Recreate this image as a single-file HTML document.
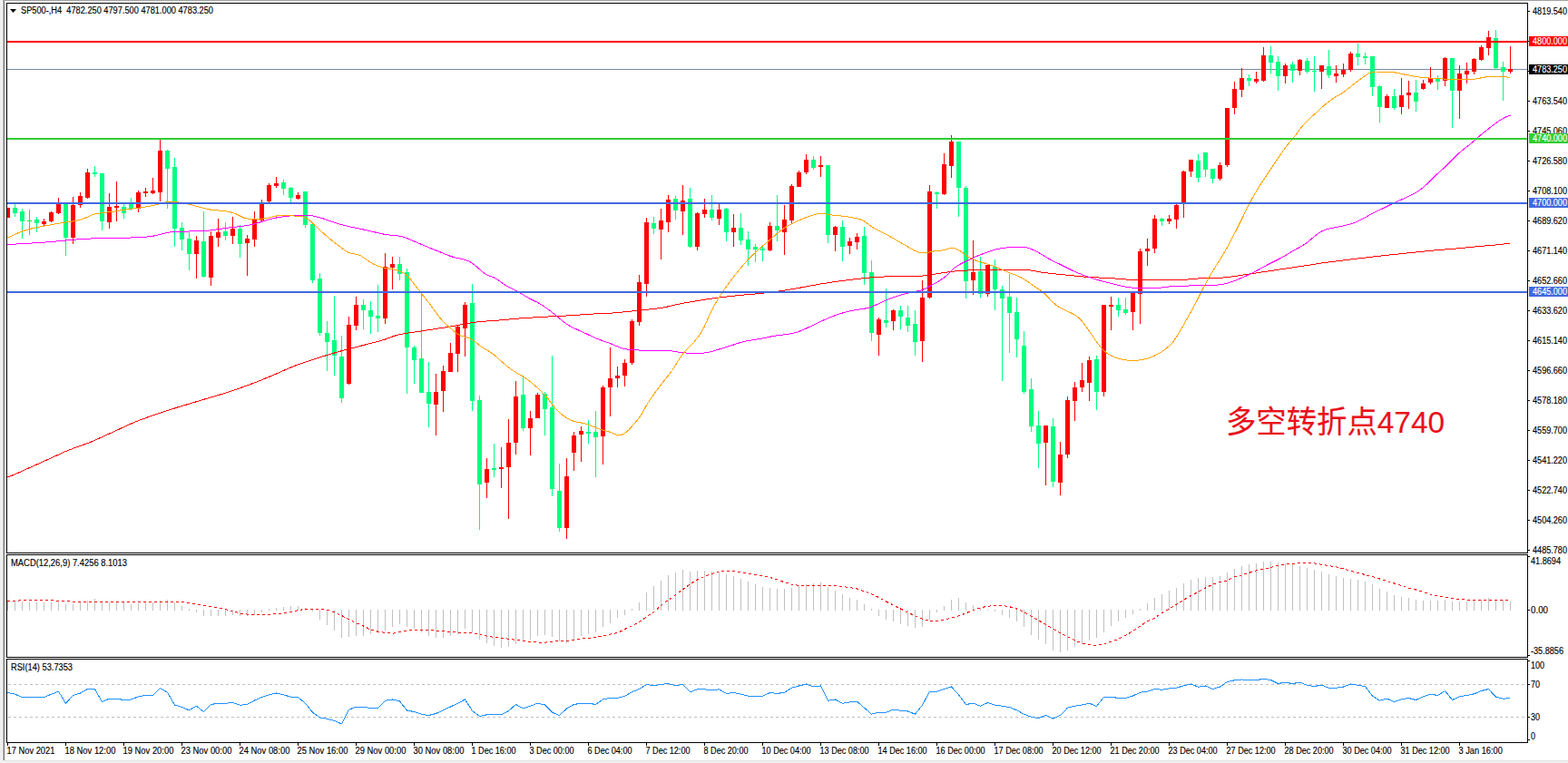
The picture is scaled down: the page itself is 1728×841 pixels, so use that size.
<!DOCTYPE html><html><head><meta charset="utf-8"><title>SP500-,H4</title>
<style>html,body{margin:0;padding:0;background:#fff;overflow:hidden}body{width:1728px;height:841px;position:relative;font-family:"Liberation Sans",sans-serif}svg{position:absolute;left:0;top:0;display:block}text{font-family:"Liberation Sans",sans-serif;font-size:10px;stroke-width:0.15px}</style></head><body>
<svg width="1728" height="841" viewBox="0 0 1728 841">
<rect x="0" y="0" width="1728" height="841" fill="#fff"/>
<g shape-rendering="crispEdges">
<rect x="0" y="0" width="3" height="841" fill="#f0f0f0"/>
<rect x="3" y="0" width="1" height="841" fill="#c3c3c3"/>
<rect x="4" y="0" width="1" height="841" fill="#6d6d6d"/>
<rect x="3" y="0" width="1725" height="1" fill="#a0a0a0"/>
<rect x="0" y="838" width="1728" height="3" fill="#f0f0f0"/>
<rect x="5" y="838" width="1723" height="1" fill="#e3e3e3"/>
<rect x="7" y="3" width="1677" height="1" fill="#000"/>
<rect x="7" y="609" width="1677" height="1" fill="#000"/>
<rect x="7" y="3" width="1" height="607" fill="#000"/>
<rect x="1683" y="3" width="1" height="607" fill="#000"/>
<rect x="7" y="611" width="1677" height="1" fill="#000"/>
<rect x="7" y="724" width="1677" height="1" fill="#000"/>
<rect x="7" y="611" width="1" height="114" fill="#000"/>
<rect x="1683" y="611" width="1" height="114" fill="#000"/>
<rect x="7" y="726" width="1677" height="1" fill="#000"/>
<rect x="7" y="818" width="1677" height="1" fill="#000"/>
<rect x="7" y="726" width="1" height="93" fill="#000"/>
<rect x="1683" y="726" width="1" height="93" fill="#000"/>
</g>
<clipPath id="cm"><rect x="8" y="4" width="1675" height="605"/></clipPath>
<g clip-path="url(#cm)" shape-rendering="crispEdges">
<rect x="8" y="76" width="1675" height="1" fill="#7b8aa0"/>
<path d="M16 225h1v14h-1zM14 229h5v6h-5zM24 230h1v33h-1zM22 233h5v11h-5zM40 239h1v17h-1zM38 242h5v4h-5zM72 225h1v57h-1zM70 225h5v37h-5zM104 183h1v12h-1zM102 190h5v2h-5zM112 191h1v63h-1zM110 191h5v53h-5zM136 225h1v16h-1zM134 228h5v7h-5zM144 218h1v14h-1zM142 224h5v6h-5zM184 165h1v65h-1zM182 166h5v20h-5zM192 174h1v98h-1zM190 184h5v68h-5zM200 245h1v31h-1zM198 251h5v13h-5zM208 256h1v42h-1zM206 263h5v17h-5zM224 233h1v73h-1zM222 266h5v39h-5zM248 245h1v20h-1zM246 255h5v5h-5zM264 248h1v36h-1zM262 252h5v17h-5zM312 198h1v17h-1zM310 201h5v7h-5zM320 206h1v17h-1zM318 207h5v11h-5zM336 211h1v40h-1zM334 211h5v37h-5zM344 247h1v65h-1zM342 247h5v62h-5zM352 301h1v69h-1zM350 307h5v60h-5zM360 354h1v55h-1zM358 367h5v10h-5zM368 326h1v88h-1zM366 375h5v17h-5zM376 370h1v74h-1zM374 393h5v46h-5zM400 330h1v33h-1zM398 336h5v6h-5zM408 332h1v36h-1zM406 342h5v7h-5zM416 314h1v52h-1zM414 348h5v3h-5zM440 283h1v26h-1zM438 291h5v11h-5zM448 296h1v138h-1zM446 300h5v83h-5zM456 381h1v42h-1zM454 383h5v14h-5zM464 324h1v109h-1zM462 395h5v38h-5zM472 399h1v72h-1zM470 432h5v13h-5zM520 313h1v140h-1zM518 334h5v108h-5zM528 436h1v148h-1zM526 441h5v93h-5zM544 489h1v37h-1zM542 516h5v2h-5zM576 414h1v61h-1zM574 435h5v37h-5zM600 432h1v48h-1zM598 434h5v17h-5zM608 392h1v155h-1zM606 449h5v90h-5zM616 511h1v75h-1zM614 541h5v41h-5zM648 463h1v26h-1zM646 476h5v2h-5zM656 453h1v73h-1zM654 476h5v6h-5zM720 239h1v19h-1zM718 246h5v6h-5zM744 216h1v26h-1zM742 219h5v13h-5zM760 207h1v66h-1zM758 219h5v53h-5zM784 215h1v28h-1zM782 231h5v9h-5zM800 229h1v37h-1zM798 230h5v26h-5zM816 235h1v35h-1zM814 251h5v14h-5zM824 255h1v38h-1zM822 264h5v11h-5zM832 269h1v20h-1zM830 272h5v3h-5zM840 272h1v16h-1zM838 274h5v2h-5zM856 215h1v51h-1zM854 249h5v5h-5zM896 172h1v15h-1zM894 176h5v9h-5zM912 182h1v86h-1zM910 182h5v77h-5zM928 243h1v45h-1zM926 250h5v22h-5zM952 250h1v64h-1zM950 260h5v41h-5zM960 287h1v89h-1zM958 300h5v67h-5zM976 318h1v43h-1zM974 353h5v3h-5zM992 337h1v26h-1zM990 342h5v7h-5zM1000 337h1v29h-1zM998 350h5v9h-5zM1008 342h1v50h-1zM1006 357h5v20h-5zM1032 211h1v19h-1zM1030 212h5v2h-5zM1056 156h1v83h-1zM1054 156h5v51h-5zM1064 205h1v124h-1zM1062 207h5v103h-5zM1080 283h1v45h-1zM1078 299h5v25h-5zM1096 286h1v56h-1zM1094 294h5v25h-5zM1104 315h1v105h-1zM1102 319h5v10h-5zM1112 302h1v87h-1zM1110 327h5v18h-5zM1120 328h1v66h-1zM1118 344h5v30h-5zM1128 365h1v69h-1zM1126 381h5v51h-5zM1136 417h1v59h-1zM1134 429h5v41h-5zM1144 453h1v63h-1zM1142 469h5v20h-5zM1160 461h1v76h-1zM1158 470h5v61h-5zM1208 392h1v60h-1zM1206 396h5v36h-5zM1232 328h1v21h-1zM1230 336h5v6h-5zM1240 328h1v19h-1zM1238 341h5v4h-5zM1280 240h1v9h-1zM1278 241h5v3h-5zM1320 170h1v31h-1zM1318 177h5v19h-5zM1328 168h1v27h-1zM1326 168h5v19h-5zM1336 186h1v16h-1zM1334 186h5v11h-5zM1376 82h1v13h-1zM1374 86h5v3h-5zM1400 51h1v30h-1zM1398 61h5v8h-5zM1408 62h1v38h-1zM1406 68h5v16h-5zM1424 68h1v23h-1zM1422 71h5v7h-5zM1440 64h1v17h-1zM1438 67h5v12h-5zM1448 62h1v39h-1zM1446 78h5v1h-5zM1464 55h1v31h-1zM1462 73h5v10h-5zM1496 48h1v24h-1zM1494 59h5v4h-5zM1504 58h1v13h-1zM1502 62h5v2h-5zM1512 62h1v44h-1zM1510 62h5v34h-5zM1520 94h1v41h-1zM1518 95h5v23h-5zM1536 98h1v23h-1zM1534 106h5v13h-5zM1560 88h1v35h-1zM1558 102h5v10h-5zM1584 83h1v16h-1zM1582 86h5v4h-5zM1600 64h1v77h-1zM1598 64h5v36h-5zM1648 33h1v44h-1zM1646 42h5v33h-5zM1656 68h1v43h-1zM1654 74h5v5h-5z" fill="#00ff7f"/>
<path d="M8 229h1v11h-1zM6 229h5v11h-5zM48 241h1v9h-1zM46 244h5v3h-5zM56 233h1v12h-1zM54 234h5v10h-5zM64 218h1v18h-1zM62 224h5v11h-5zM80 217h1v52h-1zM78 226h5v36h-5zM88 212h1v17h-1zM86 216h5v10h-5zM96 186h1v33h-1zM94 190h5v28h-5zM120 213h1v39h-1zM118 228h5v17h-5zM128 200h1v44h-1zM126 227h5v2h-5zM152 210h1v24h-1zM150 212h5v18h-5zM160 207h1v10h-1zM158 211h5v2h-5zM168 196h1v18h-1zM166 210h5v3h-5zM176 154h1v68h-1zM174 166h5v46h-5zM216 260h1v47h-1zM214 265h5v15h-5zM232 255h1v60h-1zM230 260h5v46h-5zM240 241h1v31h-1zM238 256h5v6h-5zM256 239h1v30h-1zM254 252h5v8h-5zM272 259h1v45h-1zM270 263h5v5h-5zM280 233h1v39h-1zM278 242h5v22h-5zM288 220h1v25h-1zM286 223h5v20h-5zM296 202h1v21h-1zM294 204h5v18h-5zM304 195h1v12h-1zM302 202h5v3h-5zM328 212h1v8h-1zM326 215h5v4h-5zM384 349h1v75h-1zM382 358h5v65h-5zM392 327h1v37h-1zM390 336h5v23h-5zM424 279h1v78h-1zM422 294h5v57h-5zM432 283h1v36h-1zM430 291h5v4h-5zM480 412h1v68h-1zM478 432h5v14h-5zM488 403h1v51h-1zM486 409h5v22h-5zM496 378h1v32h-1zM494 389h5v21h-5zM504 359h1v51h-1zM502 360h5v30h-5zM512 333h1v60h-1zM510 336h5v26h-5zM536 505h1v44h-1zM534 517h5v15h-5zM552 493h1v45h-1zM550 515h5v2h-5zM560 462h1v110h-1zM558 488h5v27h-5zM568 420h1v81h-1zM566 437h5v51h-5zM584 453h1v49h-1zM582 461h5v11h-5zM592 433h1v28h-1zM590 435h5v26h-5zM624 505h1v89h-1zM622 525h5v57h-5zM632 476h1v43h-1zM630 480h5v19h-5zM640 470h1v39h-1zM638 475h5v4h-5zM664 425h1v87h-1zM662 427h5v54h-5zM672 383h1v76h-1zM670 417h5v10h-5zM680 404h1v23h-1zM678 414h5v3h-5zM688 396h1v30h-1zM686 400h5v14h-5zM696 352h1v50h-1zM694 354h5v46h-5zM704 303h1v56h-1zM702 311h5v44h-5zM712 240h1v87h-1zM710 245h5v68h-5zM728 230h1v56h-1zM726 243h5v10h-5zM736 215h1v41h-1zM734 220h5v25h-5zM752 204h1v55h-1zM750 221h5v12h-5zM768 234h1v42h-1zM766 235h5v37h-5zM776 219h1v21h-1zM774 231h5v5h-5zM792 225h1v23h-1zM790 231h5v10h-5zM808 236h1v36h-1zM806 251h5v5h-5zM848 245h1v32h-1zM846 249h5v27h-5zM864 226h1v55h-1zM862 242h5v14h-5zM872 203h1v43h-1zM870 205h5v38h-5zM880 188h1v18h-1zM878 190h5v16h-5zM888 170h1v22h-1zM886 176h5v14h-5zM904 172h1v23h-1zM902 182h5v2h-5zM920 249h1v28h-1zM918 250h5v9h-5zM936 262h1v18h-1zM934 266h5v5h-5zM944 257h1v18h-1zM942 261h5v6h-5zM968 350h1v42h-1zM966 352h5v17h-5zM984 341h1v23h-1zM982 342h5v12h-5zM1016 309h1v90h-1zM1014 328h5v48h-5zM1024 204h1v125h-1zM1022 211h5v117h-5zM1040 169h1v46h-1zM1038 181h5v33h-5zM1048 149h1v47h-1zM1046 156h5v27h-5zM1072 265h1v60h-1zM1070 300h5v9h-5zM1088 291h1v36h-1zM1086 292h5v32h-5zM1152 469h1v66h-1zM1150 469h5v19h-5zM1168 487h1v59h-1zM1166 501h5v31h-5zM1176 437h1v68h-1zM1174 441h5v60h-5zM1184 421h1v43h-1zM1182 427h5v15h-5zM1192 400h1v32h-1zM1190 419h5v8h-5zM1200 393h1v49h-1zM1198 397h5v25h-5zM1216 336h1v101h-1zM1214 336h5v96h-5zM1224 327h1v37h-1zM1222 336h5v2h-5zM1248 322h1v42h-1zM1246 322h5v22h-5zM1256 274h1v83h-1zM1254 277h5v47h-5zM1264 263h1v30h-1zM1262 274h5v3h-5zM1272 237h1v42h-1zM1270 241h5v33h-5zM1288 237h1v10h-1zM1286 241h5v3h-5zM1296 225h1v27h-1zM1294 226h5v16h-5zM1304 188h1v52h-1zM1302 189h5v35h-5zM1312 176h1v19h-1zM1310 176h5v13h-5zM1344 179h1v20h-1zM1342 182h5v15h-5zM1352 119h1v65h-1zM1350 119h5v63h-5zM1360 90h1v36h-1zM1358 98h5v21h-5zM1368 75h1v32h-1zM1366 86h5v13h-5zM1384 79h1v13h-1zM1382 87h5v3h-5zM1392 52h1v38h-1zM1390 61h5v28h-5zM1416 70h1v22h-1zM1414 72h5v12h-5zM1432 65h1v18h-1zM1430 66h5v12h-5zM1456 72h1v26h-1zM1454 72h5v7h-5zM1472 72h1v19h-1zM1470 81h5v3h-5zM1480 70h1v15h-1zM1478 77h5v5h-5zM1488 57h1v22h-1zM1486 59h5v18h-5zM1528 104h1v15h-1zM1526 106h5v13h-5zM1544 86h1v40h-1zM1542 105h5v13h-5zM1552 89h1v31h-1zM1550 102h5v3h-5zM1568 88h1v11h-1zM1566 92h5v6h-5zM1576 74h1v19h-1zM1574 86h5v5h-5zM1592 63h1v32h-1zM1590 64h5v25h-5zM1608 72h1v59h-1zM1606 81h5v19h-5zM1616 69h1v23h-1zM1614 78h5v4h-5zM1624 64h1v18h-1zM1622 65h5v14h-5zM1632 50h1v17h-1zM1630 52h5v14h-5zM1640 34h1v27h-1zM1638 41h5v12h-5zM1664 51h1v30h-1zM1662 76h5v3h-5z" fill="#ff0000"/>
<path d="M32 231h1v28h-1zM30 243h5v1h-5z" fill="#00ff00"/>
</g>
<g clip-path="url(#cm)" fill="none" stroke-width="1" shape-rendering="crispEdges">
<polyline points="8.5,525.7 12.5,524.4 16.5,522.7 20.5,521.0 24.5,519.2 28.5,517.4 32.5,515.6 36.5,513.8 40.5,512.0 44.5,510.2 48.5,508.4 52.5,506.6 56.5,504.7 60.5,502.9 64.5,501.1 68.5,499.3 72.5,497.5 76.5,495.9 80.5,494.3 84.5,492.9 88.5,491.4 92.5,490.0 96.5,488.5 100.5,487.0 104.5,485.3 108.5,483.5 112.5,481.7 116.5,479.9 120.5,478.0 124.5,476.2 128.5,474.4 132.5,472.5 136.5,470.7 140.5,468.8 144.5,467.0 148.5,465.3 152.5,463.7 156.5,462.2 160.5,460.7 164.5,459.3 168.5,457.9 172.5,456.5 176.5,455.2 180.5,453.8 184.5,452.5 188.5,451.3 192.5,450.0 196.5,448.7 200.5,447.5 204.5,446.3 208.5,445.1 212.5,443.9 216.5,442.7 220.5,441.5 224.5,440.3 228.5,439.1 232.5,437.9 236.5,436.8 240.5,435.6 244.5,434.4 248.5,433.1 252.5,431.8 256.5,430.5 260.5,429.1 264.5,427.7 268.5,426.3 272.5,424.9 276.5,423.4 280.5,421.8 284.5,420.3 288.5,418.7 292.5,417.0 296.5,415.4 300.5,413.7 304.5,412.0 308.5,410.3 312.5,408.5 316.5,406.7 320.5,405.0 324.5,403.4 328.5,401.9 332.5,400.5 336.5,399.1 340.5,397.7 344.5,396.4 348.5,395.1 352.5,393.9 356.5,392.6 360.5,391.4 364.5,390.2 368.5,389.0 372.5,387.9 376.5,386.7 380.5,385.7 384.5,384.6 388.5,383.6 392.5,382.6 396.5,381.5 400.5,380.5 404.5,379.5 408.5,378.4 412.5,377.4 416.5,376.4 420.5,375.2 424.5,374.0 428.5,372.6 432.5,371.0 436.5,369.7 440.5,368.7 444.5,367.9 448.5,367.3 452.5,366.7 456.5,366.1 460.5,365.5 464.5,364.9 468.5,364.3 472.5,363.7 476.5,363.1 480.5,362.5 484.5,361.8 488.5,361.2 492.5,360.6 496.5,359.9 500.5,359.2 504.5,358.5 508.5,357.8 512.5,357.1 516.5,356.3 520.5,355.7 524.5,355.1 528.5,354.7 532.5,354.4 536.5,354.0 540.5,353.7 544.5,353.5 548.5,353.2 552.5,352.8 556.5,352.5 560.5,352.1 564.5,351.7 568.5,351.3 572.5,351.0 576.5,350.7 580.5,350.4 584.5,350.2 588.5,349.9 592.5,349.7 596.5,349.5 600.5,349.3 604.5,349.0 608.5,348.8 612.5,348.7 616.5,348.5 620.5,348.3 624.5,348.0 628.5,347.8 632.5,347.5 636.5,347.2 640.5,346.9 644.5,346.6 648.5,346.4 652.5,346.1 656.5,345.9 660.5,345.8 664.5,345.6 668.5,345.4 672.5,345.2 676.5,344.9 680.5,344.6 684.5,344.2 688.5,343.8 692.5,343.4 696.5,342.9 700.5,342.5 704.5,342.1 708.5,341.7 712.5,341.3 716.5,340.9 720.5,340.4 724.5,339.9 728.5,339.4 732.5,338.7 736.5,337.8 740.5,336.8 744.5,335.9 748.5,335.1 752.5,334.3 756.5,333.6 760.5,332.9 764.5,332.2 768.5,331.5 772.5,330.9 776.5,330.2 780.5,329.6 784.5,329.1 788.5,328.5 792.5,328.0 796.5,327.5 800.5,327.1 804.5,326.6 808.5,326.2 812.5,325.8 816.5,325.4 820.5,325.0 824.5,324.7 828.5,324.4 832.5,324.0 836.5,323.6 840.5,323.2 844.5,322.8 848.5,322.3 852.5,321.8 856.5,321.3 860.5,320.7 864.5,320.1 868.5,319.5 872.5,318.8 876.5,318.1 880.5,317.4 884.5,316.6 888.5,315.9 892.5,315.1 896.5,314.4 900.5,313.7 904.5,313.0 908.5,312.4 912.5,311.7 916.5,311.1 920.5,310.5 924.5,310.0 928.5,309.5 932.5,309.0 936.5,308.5 940.5,308.0 944.5,307.5 948.5,307.1 952.5,306.6 956.5,306.2 960.5,305.9 964.5,305.6 968.5,305.3 972.5,305.1 976.5,304.9 980.5,304.8 984.5,304.6 988.5,304.5 992.5,304.5 996.5,304.4 1000.5,304.4 1004.5,304.4 1008.5,304.3 1012.5,304.3 1016.5,304.1 1020.5,303.7 1024.5,303.0 1028.5,302.4 1032.5,301.7 1036.5,301.1 1040.5,300.5 1044.5,300.0 1048.5,299.5 1052.5,299.0 1056.5,298.6 1060.5,298.3 1064.5,298.1 1068.5,297.9 1072.5,297.8 1076.5,297.7 1080.5,297.6 1084.5,297.5 1088.5,297.5 1092.5,297.5 1096.5,297.5 1100.5,297.5 1104.5,297.5 1108.5,297.5 1112.5,297.5 1116.5,297.5 1120.5,297.5 1124.5,297.5 1128.5,297.5 1132.5,297.7 1136.5,298.1 1140.5,298.7 1144.5,299.5 1148.5,300.2 1152.5,300.7 1156.5,301.2 1160.5,301.7 1164.5,302.1 1168.5,302.5 1172.5,302.9 1176.5,303.3 1180.5,303.7 1184.5,304.1 1188.5,304.5 1192.5,304.9 1196.5,305.2 1200.5,305.5 1204.5,305.7 1208.5,305.9 1212.5,306.1 1216.5,306.3 1220.5,306.5 1224.5,306.7 1228.5,307.0 1232.5,307.4 1236.5,307.7 1240.5,308.0 1244.5,308.2 1248.5,308.2 1252.5,308.2 1256.5,308.2 1260.5,308.2 1264.5,308.2 1268.5,308.2 1272.5,308.2 1276.5,308.2 1280.5,308.2 1284.5,308.2 1288.5,308.2 1292.5,308.2 1296.5,308.2 1300.5,308.2 1304.5,308.2 1308.5,308.1 1312.5,307.7 1316.5,307.4 1320.5,307.0 1324.5,306.9 1328.5,306.7 1332.5,306.6 1336.5,306.6 1340.5,306.4 1344.5,306.3 1348.5,306.0 1352.5,305.6 1356.5,305.1 1360.5,304.5 1364.5,303.9 1368.5,303.3 1372.5,302.7 1376.5,302.1 1380.5,301.5 1384.5,300.9 1388.5,300.3 1392.5,299.7 1396.5,299.1 1400.5,298.5 1404.5,297.9 1408.5,297.3 1412.5,296.7 1416.5,296.1 1420.5,295.5 1424.5,294.9 1428.5,294.3 1432.5,293.7 1436.5,293.1 1440.5,292.5 1444.5,291.9 1448.5,291.3 1452.5,290.7 1456.5,290.0 1460.5,289.5 1464.5,288.9 1468.5,288.4 1472.5,287.9 1476.5,287.4 1480.5,286.9 1484.5,286.4 1488.5,286.0 1492.5,285.5 1496.5,285.0 1500.5,284.6 1504.5,284.1 1508.5,283.6 1512.5,283.1 1516.5,282.7 1520.5,282.2 1524.5,281.8 1528.5,281.3 1532.5,280.9 1536.5,280.5 1540.5,280.1 1544.5,279.6 1548.5,279.2 1552.5,278.8 1556.5,278.4 1560.5,278.0 1564.5,277.6 1568.5,277.2 1572.5,276.8 1576.5,276.4 1580.5,276.0 1584.5,275.7 1588.5,275.3 1592.5,275.0 1596.5,274.7 1600.5,274.4 1604.5,274.1 1608.5,273.7 1612.5,273.3 1616.5,272.9 1620.5,272.5 1624.5,272.1 1628.5,271.7 1632.5,271.3 1636.5,271.0 1640.5,270.7 1644.5,270.4 1648.5,270.0 1652.5,269.6 1656.5,269.1 1660.5,268.5 1664.5,268.0" stroke="#ff0000"/>
<polyline points="8.5,269.4 12.5,269.3 16.5,269.1 20.5,268.9 24.5,268.6 28.5,268.4 32.5,268.2 36.5,267.9 40.5,267.7 44.5,267.4 48.5,267.1 52.5,266.8 56.5,266.5 60.5,266.2 64.5,265.8 68.5,265.5 72.5,265.1 76.5,264.7 80.5,264.4 84.5,264.0 88.5,263.7 92.5,263.4 96.5,263.2 100.5,263.0 104.5,262.9 108.5,262.7 112.5,262.6 116.5,262.6 120.5,262.5 124.5,262.4 128.5,262.3 132.5,262.3 136.5,262.2 140.5,262.1 144.5,262.0 148.5,261.8 152.5,261.7 156.5,261.4 160.5,261.2 164.5,260.8 168.5,260.2 172.5,259.4 176.5,258.4 180.5,257.3 184.5,256.4 188.5,255.8 192.5,255.4 196.5,255.3 200.5,255.1 204.5,255.1 208.5,255.0 212.5,254.9 216.5,254.8 220.5,254.7 224.5,254.5 228.5,254.3 232.5,253.9 236.5,253.3 240.5,252.7 244.5,252.1 248.5,251.5 252.5,251.0 256.5,250.5 260.5,250.1 264.5,249.6 268.5,249.1 272.5,248.5 276.5,247.7 280.5,246.8 284.5,245.6 288.5,244.4 292.5,243.1 296.5,241.9 300.5,240.8 304.5,240.0 308.5,239.3 312.5,238.8 316.5,238.3 320.5,237.9 324.5,237.6 328.5,237.3 332.5,237.2 336.5,237.1 340.5,237.3 344.5,237.9 348.5,238.8 352.5,239.8 356.5,241.0 360.5,242.4 364.5,243.8 368.5,245.3 372.5,246.6 376.5,247.7 380.5,248.7 384.5,249.6 388.5,250.5 392.5,251.3 396.5,252.2 400.5,253.0 404.5,253.9 408.5,254.8 412.5,255.8 416.5,256.7 420.5,257.6 424.5,258.4 428.5,259.0 432.5,259.4 436.5,259.8 440.5,260.2 444.5,261.1 448.5,262.5 452.5,264.3 456.5,266.0 460.5,267.7 464.5,269.4 468.5,271.1 472.5,272.8 476.5,274.4 480.5,276.0 484.5,277.6 488.5,279.2 492.5,280.9 496.5,282.4 500.5,283.6 504.5,284.6 508.5,285.4 512.5,286.4 516.5,287.9 520.5,290.2 524.5,293.2 528.5,296.8 532.5,300.3 536.5,302.9 540.5,304.6 544.5,306.0 548.5,308.2 552.5,311.3 556.5,314.1 560.5,316.3 564.5,318.1 568.5,320.1 572.5,322.3 576.5,324.9 580.5,327.4 584.5,329.5 588.5,331.5 592.5,333.4 596.5,335.7 600.5,338.4 604.5,341.3 608.5,344.4 612.5,347.6 616.5,350.9 620.5,354.2 624.5,357.2 628.5,359.6 632.5,361.7 636.5,363.5 640.5,365.3 644.5,367.1 648.5,369.0 652.5,370.9 656.5,372.7 660.5,374.3 664.5,375.7 668.5,377.1 672.5,378.6 676.5,380.2 680.5,381.9 684.5,383.5 688.5,384.6 692.5,385.3 696.5,385.7 700.5,385.9 704.5,386.0 708.5,386.0 712.5,386.0 716.5,386.0 720.5,386.0 724.5,386.0 728.5,386.0 732.5,386.1 736.5,386.3 740.5,386.9 744.5,387.6 748.5,388.2 752.5,388.7 756.5,389.1 760.5,389.3 764.5,389.4 768.5,389.3 772.5,389.2 776.5,389.0 780.5,388.4 784.5,387.5 788.5,386.2 792.5,385.0 796.5,383.8 800.5,382.6 804.5,381.3 808.5,380.0 812.5,378.6 816.5,377.4 820.5,376.3 824.5,375.5 828.5,374.9 832.5,374.3 836.5,373.7 840.5,372.9 844.5,372.1 848.5,371.2 852.5,370.4 856.5,369.8 860.5,369.3 864.5,368.8 868.5,368.2 872.5,367.6 876.5,366.7 880.5,365.4 884.5,363.8 888.5,362.0 892.5,360.1 896.5,358.1 900.5,356.3 904.5,354.4 908.5,352.6 912.5,350.8 916.5,349.1 920.5,347.6 924.5,346.2 928.5,345.0 932.5,343.9 936.5,342.9 940.5,342.1 944.5,341.3 948.5,340.8 952.5,340.2 956.5,339.4 960.5,338.2 964.5,336.5 968.5,334.6 972.5,332.7 976.5,330.9 980.5,329.3 984.5,327.8 988.5,326.4 992.5,325.2 996.5,324.1 1000.5,323.2 1004.5,322.2 1008.5,321.4 1012.5,320.6 1016.5,319.5 1020.5,317.7 1024.5,315.5 1028.5,313.3 1032.5,311.1 1036.5,308.8 1040.5,306.0 1044.5,302.4 1048.5,298.3 1052.5,294.8 1056.5,292.1 1060.5,290.0 1064.5,288.0 1068.5,286.1 1072.5,284.2 1076.5,282.4 1080.5,280.8 1084.5,279.2 1088.5,277.7 1092.5,276.4 1096.5,275.2 1100.5,274.2 1104.5,273.5 1108.5,273.1 1112.5,272.7 1116.5,272.4 1120.5,272.2 1124.5,272.1 1128.5,272.4 1132.5,273.1 1136.5,274.5 1140.5,276.3 1144.5,278.4 1148.5,280.8 1152.5,283.2 1156.5,285.5 1160.5,287.6 1164.5,289.6 1168.5,291.5 1172.5,293.5 1176.5,295.5 1180.5,297.5 1184.5,299.4 1188.5,301.1 1192.5,302.7 1196.5,304.2 1200.5,305.6 1204.5,306.9 1208.5,308.1 1212.5,309.3 1216.5,310.4 1220.5,311.4 1224.5,312.3 1228.5,313.3 1232.5,314.3 1236.5,315.3 1240.5,316.2 1244.5,316.8 1248.5,317.1 1252.5,317.3 1256.5,317.4 1260.5,317.5 1264.5,317.5 1268.5,317.5 1272.5,317.5 1276.5,317.4 1280.5,317.0 1284.5,316.5 1288.5,316.0 1292.5,315.7 1296.5,315.5 1300.5,315.3 1304.5,315.2 1308.5,315.1 1312.5,314.9 1316.5,314.8 1320.5,314.8 1324.5,314.7 1328.5,314.6 1332.5,314.4 1336.5,314.3 1340.5,314.1 1344.5,313.8 1348.5,313.1 1352.5,312.1 1356.5,310.9 1360.5,309.5 1364.5,307.9 1368.5,306.2 1372.5,304.5 1376.5,302.7 1380.5,300.7 1384.5,298.6 1388.5,296.4 1392.5,294.2 1396.5,292.0 1400.5,290.0 1404.5,288.0 1408.5,286.0 1412.5,283.9 1416.5,281.6 1420.5,279.2 1424.5,276.9 1428.5,274.6 1432.5,272.4 1436.5,270.0 1440.5,267.3 1444.5,264.0 1448.5,260.5 1452.5,257.5 1456.5,255.0 1460.5,253.2 1464.5,252.1 1468.5,251.3 1472.5,250.6 1476.5,249.8 1480.5,248.9 1484.5,247.9 1488.5,246.8 1492.5,245.5 1496.5,243.8 1500.5,241.9 1504.5,239.7 1508.5,237.4 1512.5,235.3 1516.5,233.3 1520.5,231.4 1524.5,229.5 1528.5,227.5 1532.5,225.5 1536.5,223.6 1540.5,221.7 1544.5,220.0 1548.5,218.2 1552.5,216.3 1556.5,214.4 1560.5,212.2 1564.5,209.6 1568.5,206.5 1572.5,202.9 1576.5,198.9 1580.5,194.9 1584.5,191.2 1588.5,187.7 1592.5,184.0 1596.5,180.0 1600.5,176.0 1604.5,172.0 1608.5,168.2 1612.5,164.9 1616.5,161.8 1620.5,158.7 1624.5,155.3 1628.5,151.7 1632.5,148.2 1636.5,145.1 1640.5,141.9 1644.5,138.7 1648.5,135.6 1652.5,132.9 1656.5,130.6 1660.5,128.5 1664.5,127.1" stroke="#ff00ff"/>
<polyline points="8.5,261.9 12.5,260.3 16.5,258.4 20.5,256.6 24.5,255.0 28.5,253.7 32.5,252.5 36.5,251.5 40.5,250.7 44.5,249.9 48.5,249.1 52.5,248.4 56.5,247.7 60.5,247.0 64.5,246.3 68.5,245.7 72.5,245.0 76.5,244.4 80.5,243.9 84.5,243.2 88.5,242.3 92.5,240.9 96.5,239.1 100.5,237.2 104.5,235.9 108.5,235.2 112.5,234.7 116.5,234.2 120.5,233.7 124.5,233.2 128.5,232.6 132.5,232.0 136.5,231.3 140.5,230.8 144.5,230.2 148.5,229.7 152.5,229.2 156.5,228.6 160.5,228.0 164.5,227.3 168.5,226.5 172.5,225.7 176.5,224.6 180.5,223.3 184.5,222.4 188.5,222.2 192.5,222.5 196.5,223.0 200.5,223.7 204.5,224.4 208.5,225.3 212.5,226.2 216.5,227.3 220.5,228.4 224.5,229.5 228.5,230.4 232.5,231.2 236.5,231.7 240.5,232.0 244.5,232.4 248.5,232.8 252.5,233.5 256.5,234.5 260.5,236.0 264.5,238.0 268.5,240.0 272.5,241.0 276.5,241.2 280.5,241.2 284.5,241.2 288.5,241.2 292.5,240.8 296.5,239.9 300.5,238.8 304.5,238.0 308.5,237.4 312.5,237.1 316.5,237.3 320.5,237.7 324.5,238.1 328.5,238.4 332.5,238.7 336.5,239.6 340.5,242.2 344.5,245.9 348.5,249.7 352.5,253.5 356.5,257.1 360.5,260.7 364.5,264.1 368.5,267.3 372.5,270.3 376.5,273.3 380.5,276.3 384.5,278.5 388.5,279.6 392.5,280.2 396.5,281.3 400.5,283.7 404.5,286.6 408.5,289.3 412.5,291.5 416.5,293.2 420.5,294.4 424.5,295.3 428.5,296.0 432.5,296.7 436.5,297.5 440.5,298.7 444.5,300.7 448.5,303.7 452.5,308.0 456.5,313.1 460.5,318.4 464.5,323.5 468.5,328.5 472.5,333.6 476.5,339.0 480.5,344.5 484.5,349.9 488.5,354.5 492.5,358.3 496.5,361.7 500.5,365.1 504.5,368.2 508.5,370.1 512.5,371.1 516.5,372.4 520.5,374.4 524.5,377.3 528.5,380.7 532.5,383.6 536.5,385.9 540.5,388.2 544.5,391.0 548.5,394.4 552.5,398.2 556.5,401.7 560.5,405.0 564.5,407.9 568.5,410.5 572.5,412.8 576.5,415.1 580.5,417.7 584.5,420.8 588.5,424.2 592.5,427.7 596.5,431.3 600.5,435.3 604.5,440.3 608.5,445.7 612.5,450.7 616.5,454.6 620.5,457.9 624.5,460.7 628.5,462.9 632.5,464.4 636.5,465.3 640.5,466.0 644.5,466.9 648.5,468.1 652.5,469.7 656.5,471.3 660.5,472.8 664.5,474.1 668.5,475.1 672.5,476.3 676.5,478.2 680.5,479.7 684.5,479.5 688.5,477.6 692.5,474.3 696.5,469.9 700.5,465.3 704.5,460.4 708.5,454.0 712.5,446.7 716.5,440.4 720.5,434.8 724.5,429.1 728.5,423.7 732.5,418.8 736.5,413.8 740.5,408.5 744.5,402.4 748.5,396.0 752.5,390.2 756.5,385.6 760.5,381.7 764.5,377.4 768.5,372.5 772.5,366.8 776.5,359.5 780.5,350.3 784.5,341.6 788.5,334.3 792.5,327.5 796.5,321.4 800.5,315.9 804.5,310.6 808.5,305.2 812.5,300.1 816.5,295.2 820.5,290.5 824.5,286.1 828.5,282.1 832.5,278.3 836.5,274.7 840.5,271.1 844.5,267.6 848.5,264.2 852.5,260.8 856.5,257.3 860.5,254.1 864.5,251.3 868.5,248.8 872.5,246.6 876.5,244.6 880.5,242.8 884.5,241.2 888.5,239.6 892.5,238.2 896.5,236.9 900.5,235.8 904.5,235.3 908.5,235.5 912.5,236.3 916.5,237.0 920.5,237.4 924.5,237.8 928.5,238.2 932.5,238.7 936.5,239.3 940.5,240.1 944.5,240.9 948.5,242.0 952.5,243.9 956.5,246.6 960.5,249.7 964.5,252.2 968.5,254.2 972.5,256.1 976.5,258.1 980.5,260.4 984.5,262.7 988.5,265.1 992.5,267.4 996.5,269.7 1000.5,272.0 1004.5,274.3 1008.5,276.5 1012.5,278.1 1016.5,279.0 1020.5,278.8 1024.5,277.8 1028.5,277.0 1032.5,276.5 1036.5,276.2 1040.5,275.5 1044.5,274.3 1048.5,273.5 1052.5,273.9 1056.5,275.5 1060.5,278.3 1064.5,281.3 1068.5,283.8 1072.5,285.8 1076.5,287.4 1080.5,288.7 1084.5,290.0 1088.5,291.2 1092.5,292.5 1096.5,293.9 1100.5,295.6 1104.5,297.3 1108.5,299.1 1112.5,300.7 1116.5,302.2 1120.5,303.7 1124.5,305.5 1128.5,307.7 1132.5,310.3 1136.5,313.2 1140.5,316.1 1144.5,318.7 1148.5,321.3 1152.5,324.8 1156.5,329.2 1160.5,333.4 1164.5,336.7 1168.5,339.3 1172.5,341.4 1176.5,343.2 1180.5,345.0 1184.5,347.1 1188.5,350.0 1192.5,354.2 1196.5,359.4 1200.5,365.1 1204.5,371.0 1208.5,376.9 1212.5,382.2 1216.5,386.5 1220.5,389.7 1224.5,392.0 1228.5,393.7 1232.5,395.1 1236.5,396.2 1240.5,396.9 1244.5,397.3 1248.5,397.4 1252.5,397.3 1256.5,396.9 1260.5,396.2 1264.5,395.1 1268.5,393.7 1272.5,392.0 1276.5,389.9 1280.5,387.5 1284.5,384.8 1288.5,381.5 1292.5,377.2 1296.5,371.5 1300.5,364.9 1304.5,357.9 1308.5,350.7 1312.5,343.6 1316.5,336.2 1320.5,328.6 1324.5,320.6 1328.5,312.7 1332.5,305.5 1336.5,298.9 1340.5,292.5 1344.5,286.1 1348.5,279.5 1352.5,272.6 1356.5,265.1 1360.5,257.4 1364.5,249.5 1368.5,241.5 1372.5,233.4 1376.5,225.3 1380.5,217.7 1384.5,210.8 1388.5,204.4 1392.5,198.2 1396.5,192.2 1400.5,186.2 1404.5,180.2 1408.5,174.2 1412.5,168.4 1416.5,162.8 1420.5,157.8 1424.5,153.2 1428.5,148.2 1432.5,142.6 1436.5,137.5 1440.5,133.4 1444.5,129.6 1448.5,126.1 1452.5,122.5 1456.5,118.7 1460.5,115.1 1464.5,111.9 1468.5,108.9 1472.5,106.4 1476.5,104.2 1480.5,101.7 1484.5,98.7 1488.5,95.4 1492.5,92.2 1496.5,89.2 1500.5,86.2 1504.5,83.3 1508.5,80.9 1512.5,79.4 1516.5,79.0 1520.5,79.0 1524.5,79.0 1528.5,79.0 1532.5,79.2 1536.5,79.8 1540.5,80.6 1544.5,81.4 1548.5,82.2 1552.5,82.9 1556.5,83.7 1560.5,84.4 1564.5,85.1 1568.5,85.5 1572.5,85.8 1576.5,86.1 1580.5,86.3 1584.5,86.5 1588.5,86.9 1592.5,87.1 1596.5,87.4 1600.5,87.5 1604.5,87.5 1608.5,87.5 1612.5,87.5 1616.5,87.5 1620.5,87.4 1624.5,87.2 1628.5,86.7 1632.5,85.8 1636.5,85.0 1640.5,84.5 1644.5,84.2 1648.5,84.1 1652.5,84.1 1656.5,84.4 1660.5,84.9 1664.5,85.4" stroke="#ffa500"/>
</g>
<g clip-path="url(#cm)" shape-rendering="crispEdges">
<rect x="8" y="45" width="1675" height="2" fill="#ff0000"/>
<rect x="8" y="152" width="1675" height="2" fill="#32cd32"/>
<rect x="8" y="223" width="1675" height="2" fill="#4169e1"/>
<rect x="8" y="321" width="1675" height="2" fill="#4169e1"/>
</g>
<g shape-rendering="crispEdges">
<path d="M8 662h1v11h-1zM16 663h1v10h-1zM24 663h1v10h-1zM32 663h1v10h-1zM40 664h1v9h-1zM48 664h1v9h-1zM56 664h1v9h-1zM64 664h1v9h-1zM72 666h1v7h-1zM80 666h1v7h-1zM88 664h1v9h-1zM96 662h1v11h-1zM104 660h1v13h-1zM112 662h1v11h-1zM120 664h1v9h-1zM128 664h1v9h-1zM136 664h1v9h-1zM144 666h1v7h-1zM152 665h1v8h-1zM160 664h1v9h-1zM168 664h1v9h-1zM176 662h1v11h-1zM184 661h1v12h-1zM192 664h1v9h-1zM200 668h1v5h-1zM208 671h1v2h-1zM216 672h1v3h-1zM224 672h1v7h-1zM232 672h1v7h-1zM240 672h1v7h-1zM248 672h1v7h-1zM256 672h1v6h-1zM264 672h1v7h-1zM272 672h1v7h-1zM280 672h1v6h-1zM288 672h1v3h-1zM296 671h1v2h-1zM304 670h1v3h-1zM312 669h1v4h-1zM320 668h1v5h-1zM328 668h1v5h-1zM336 670h1v3h-1zM344 672h1v2h-1zM352 672h1v11h-1zM360 672h1v17h-1zM368 672h1v23h-1zM376 672h1v31h-1zM384 672h1v30h-1zM392 672h1v29h-1zM400 672h1v29h-1zM408 672h1v27h-1zM416 672h1v25h-1zM424 672h1v23h-1zM432 672h1v19h-1zM440 672h1v16h-1zM448 672h1v19h-1zM456 672h1v21h-1zM464 672h1v25h-1zM472 672h1v29h-1zM480 672h1v31h-1zM488 672h1v31h-1zM496 672h1v29h-1zM504 672h1v27h-1zM512 672h1v21h-1zM520 672h1v25h-1zM528 672h1v33h-1zM536 672h1v37h-1zM544 672h1v40h-1zM552 672h1v42h-1zM560 672h1v41h-1zM568 672h1v38h-1zM576 672h1v35h-1zM584 672h1v33h-1zM592 672h1v29h-1zM600 672h1v28h-1zM608 672h1v30h-1zM616 672h1v35h-1zM624 672h1v37h-1zM632 672h1v33h-1zM640 672h1v29h-1zM648 672h1v27h-1zM656 672h1v25h-1zM664 672h1v19h-1zM672 672h1v15h-1zM680 672h1v9h-1zM688 672h1v6h-1zM696 671h1v2h-1zM704 664h1v9h-1zM712 653h1v20h-1zM720 646h1v27h-1zM728 640h1v33h-1zM736 634h1v39h-1zM744 631h1v42h-1zM752 628h1v45h-1zM760 630h1v43h-1zM768 629h1v44h-1zM776 629h1v44h-1zM784 630h1v43h-1zM792 630h1v43h-1zM800 633h1v40h-1zM808 635h1v38h-1zM816 638h1v35h-1zM824 641h1v32h-1zM832 644h1v29h-1zM840 647h1v26h-1zM848 648h1v25h-1zM856 649h1v24h-1zM864 649h1v24h-1zM872 648h1v25h-1zM880 645h1v28h-1zM888 644h1v29h-1zM896 643h1v30h-1zM904 642h1v31h-1zM912 647h1v26h-1zM920 651h1v22h-1zM928 655h1v18h-1zM936 659h1v14h-1zM944 661h1v12h-1zM952 666h1v7h-1zM960 671h1v2h-1zM968 672h1v7h-1zM976 672h1v11h-1zM984 672h1v13h-1zM992 672h1v16h-1zM1000 672h1v18h-1zM1008 672h1v20h-1zM1016 672h1v19h-1zM1024 672h1v11h-1zM1032 672h1v3h-1zM1040 668h1v5h-1zM1048 661h1v12h-1zM1056 659h1v14h-1zM1064 664h1v9h-1zM1072 667h1v6h-1zM1080 670h1v3h-1zM1088 672h1v1h-1zM1096 672h1v2h-1zM1104 672h1v6h-1zM1112 672h1v9h-1zM1120 672h1v13h-1zM1128 672h1v19h-1zM1136 672h1v28h-1zM1144 672h1v33h-1zM1152 672h1v38h-1zM1160 672h1v45h-1zM1168 672h1v47h-1zM1176 672h1v45h-1zM1184 672h1v41h-1zM1192 672h1v38h-1zM1200 672h1v34h-1zM1208 672h1v31h-1zM1216 672h1v25h-1zM1224 672h1v18h-1zM1232 672h1v13h-1zM1240 672h1v9h-1zM1248 672h1v5h-1zM1256 671h1v2h-1zM1264 665h1v8h-1zM1272 659h1v14h-1zM1280 655h1v18h-1zM1288 651h1v22h-1zM1296 648h1v25h-1zM1304 643h1v30h-1zM1312 639h1v34h-1zM1320 637h1v36h-1zM1328 636h1v37h-1zM1336 636h1v37h-1zM1344 635h1v38h-1zM1352 631h1v42h-1zM1360 627h1v46h-1zM1368 624h1v49h-1zM1376 622h1v51h-1zM1384 621h1v52h-1zM1392 619h1v54h-1zM1400 619h1v54h-1zM1408 620h1v53h-1zM1416 621h1v52h-1zM1424 622h1v51h-1zM1432 624h1v49h-1zM1440 626h1v47h-1zM1448 628h1v45h-1zM1456 630h1v43h-1zM1464 633h1v40h-1zM1472 635h1v38h-1zM1480 637h1v36h-1zM1488 638h1v35h-1zM1496 639h1v34h-1zM1504 641h1v32h-1zM1512 644h1v29h-1zM1520 649h1v24h-1zM1528 652h1v21h-1zM1536 656h1v17h-1zM1544 658h1v15h-1zM1552 659h1v14h-1zM1560 661h1v12h-1zM1568 662h1v11h-1zM1576 662h1v11h-1zM1584 662h1v11h-1zM1592 661h1v12h-1zM1600 663h1v10h-1zM1608 663h1v10h-1zM1616 663h1v10h-1zM1624 662h1v11h-1zM1632 661h1v12h-1zM1640 659h1v14h-1zM1648 661h1v12h-1zM1656 661h1v12h-1zM1664 663h1v10h-1z" fill="#c0c0c0"/>
<polyline points="8.5,663.0 16.5,662.3 24.5,661.8 32.5,661.4 40.5,661.3 48.5,661.3 56.5,661.7 64.5,662.4 72.5,662.9 80.5,663.1 88.5,663.1 96.5,663.2 104.5,663.3 112.5,663.3 120.5,663.3 128.5,663.3 136.5,663.3 144.5,663.4 152.5,663.4 160.5,663.4 168.5,663.5 176.5,663.5 184.5,663.6 192.5,663.6 200.5,663.8 208.5,664.4 216.5,665.8 224.5,667.3 232.5,668.6 240.5,670.0 248.5,671.6 256.5,673.8 264.5,676.1 272.5,677.1 280.5,677.9 288.5,677.9 296.5,677.4 304.5,676.6 312.5,675.7 320.5,674.5 328.5,672.7 336.5,671.3 344.5,671.2 352.5,671.2 360.5,672.1 368.5,674.8 376.5,678.5 384.5,682.9 392.5,686.7 400.5,690.0 408.5,694.1 416.5,696.3 424.5,697.4 432.5,698.2 440.5,696.7 448.5,695.2 456.5,694.6 464.5,694.5 472.5,694.5 480.5,694.9 488.5,695.8 496.5,696.4 504.5,697.0 512.5,697.4 520.5,698.0 528.5,699.6 536.5,701.1 544.5,702.4 552.5,703.3 560.5,704.2 568.5,705.3 576.5,706.4 584.5,707.5 592.5,708.1 600.5,708.2 608.5,707.2 616.5,706.7 624.5,706.3 632.5,705.4 640.5,704.2 648.5,703.4 656.5,702.3 664.5,700.8 672.5,699.1 680.5,697.5 688.5,693.5 696.5,689.9 704.5,685.5 712.5,679.9 720.5,674.5 728.5,667.2 736.5,661.4 744.5,655.8 752.5,649.7 760.5,643.8 768.5,639.0 776.5,635.3 784.5,632.4 792.5,630.3 800.5,629.2 808.5,629.2 816.5,630.6 824.5,632.4 832.5,633.3 840.5,634.7 848.5,636.4 856.5,638.8 864.5,641.7 872.5,644.1 880.5,645.5 888.5,645.5 896.5,645.5 904.5,645.5 912.5,645.6 920.5,645.8 928.5,646.5 936.5,647.6 944.5,649.0 952.5,651.8 960.5,654.9 968.5,658.5 976.5,663.0 984.5,667.0 992.5,671.0 1000.5,675.1 1008.5,678.9 1016.5,682.1 1024.5,684.2 1032.5,684.2 1040.5,683.3 1048.5,681.0 1056.5,678.9 1064.5,675.9 1072.5,672.4 1080.5,669.8 1088.5,668.2 1096.5,667.5 1104.5,667.5 1112.5,668.7 1120.5,671.0 1128.5,674.5 1136.5,679.3 1144.5,683.9 1152.5,688.3 1160.5,693.2 1168.5,697.8 1176.5,701.8 1184.5,705.8 1192.5,709.2 1200.5,710.9 1208.5,711.1 1216.5,709.8 1224.5,707.3 1232.5,704.3 1240.5,700.4 1248.5,695.6 1256.5,690.1 1264.5,684.8 1272.5,681.2 1280.5,675.5 1288.5,671.1 1296.5,666.3 1304.5,661.2 1312.5,656.4 1320.5,652.5 1328.5,648.0 1336.5,644.0 1344.5,641.7 1352.5,639.8 1360.5,635.8 1368.5,633.8 1376.5,631.3 1384.5,628.9 1392.5,627.1 1400.5,625.5 1408.5,623.4 1416.5,622.2 1424.5,621.3 1432.5,620.7 1440.5,620.5 1448.5,621.0 1456.5,622.3 1464.5,623.6 1472.5,624.9 1480.5,627.0 1488.5,629.4 1496.5,631.5 1504.5,633.5 1512.5,635.6 1520.5,638.0 1528.5,640.6 1536.5,643.0 1544.5,645.6 1552.5,648.0 1560.5,650.0 1568.5,652.4 1576.5,655.1 1584.5,657.1 1592.5,658.3 1600.5,659.2 1608.5,660.5 1616.5,661.1 1624.5,661.2 1632.5,661.2 1640.5,661.2 1648.5,661.2 1656.5,661.2 1664.5,661.2" fill="none" stroke="#ff0000" stroke-width="1" stroke-dasharray="3,3"/>
<path d="M9 754.5H1683M9 790.5H1683" stroke="#c0c0c0" stroke-width="1" stroke-dasharray="3,3" fill="none"/>
<polyline points="8.5,763.5 16.5,765.2 24.5,768.5 32.5,768.5 40.5,768.5 48.5,768.5 56.5,765.2 64.5,762.2 72.5,775.2 80.5,766.5 88.5,764.0 96.5,759.5 104.5,759.5 112.5,773.5 120.5,770.2 128.5,770.2 136.5,771.5 144.5,771.0 152.5,767.8 160.5,766.5 168.5,766.5 176.5,758.5 184.5,763.2 192.5,777.0 200.5,779.5 208.5,782.8 216.5,778.2 224.5,784.5 232.5,776.5 240.5,775.2 248.5,775.2 256.5,774.5 264.5,777.2 272.5,776.5 280.5,772.0 288.5,768.5 296.5,765.8 304.5,764.0 312.5,765.8 320.5,768.2 328.5,768.5 336.5,775.2 344.5,785.2 352.5,791.0 360.5,792.2 368.5,794.5 376.5,797.8 384.5,782.2 392.5,779.0 400.5,779.0 408.5,780.8 416.5,780.8 424.5,772.2 432.5,771.0 440.5,772.8 448.5,783.2 456.5,784.5 464.5,787.2 472.5,788.5 480.5,786.5 488.5,782.8 496.5,779.0 504.5,775.2 512.5,771.0 520.5,783.5 528.5,789.5 536.5,787.8 544.5,787.8 552.5,787.8 560.5,783.5 568.5,776.5 576.5,780.8 584.5,778.2 592.5,775.2 600.5,777.0 608.5,785.2 616.5,788.5 624.5,781.0 632.5,776.5 640.5,775.2 648.5,775.2 656.5,776.5 664.5,770.8 672.5,769.5 680.5,769.5 688.5,767.2 696.5,762.8 704.5,759.5 712.5,754.5 720.5,755.8 728.5,754.5 736.5,753.5 744.5,755.8 752.5,754.5 760.5,762.8 768.5,759.8 776.5,759.8 784.5,761.0 792.5,759.8 800.5,764.5 808.5,763.5 816.5,765.2 824.5,767.2 832.5,767.8 840.5,767.2 848.5,763.5 856.5,764.5 864.5,763.2 872.5,758.2 880.5,756.0 888.5,754.0 896.5,757.0 904.5,756.0 912.5,772.2 920.5,771.0 928.5,775.2 936.5,774.0 944.5,773.2 952.5,780.2 960.5,787.2 968.5,785.2 976.5,785.2 984.5,782.2 992.5,783.2 1000.5,784.0 1008.5,787.2 1016.5,777.2 1024.5,762.2 1032.5,762.2 1040.5,759.5 1048.5,757.0 1056.5,765.8 1064.5,776.5 1072.5,775.2 1080.5,778.2 1088.5,774.5 1096.5,777.2 1104.5,778.2 1112.5,779.5 1120.5,782.8 1128.5,787.2 1136.5,790.2 1144.5,791.5 1152.5,788.5 1160.5,792.0 1168.5,788.5 1176.5,780.2 1184.5,778.2 1192.5,777.0 1200.5,775.2 1208.5,778.5 1216.5,768.2 1224.5,768.2 1232.5,769.5 1240.5,769.5 1248.5,767.0 1256.5,763.2 1264.5,762.2 1272.5,759.5 1280.5,760.2 1288.5,759.0 1296.5,758.2 1304.5,755.8 1312.5,754.0 1320.5,757.2 1328.5,756.0 1336.5,759.5 1344.5,757.0 1352.5,751.5 1360.5,749.8 1368.5,749.0 1376.5,749.8 1384.5,749.8 1392.5,748.2 1400.5,749.5 1408.5,753.5 1416.5,752.2 1424.5,753.5 1432.5,752.2 1440.5,755.2 1448.5,756.5 1456.5,755.2 1464.5,758.2 1472.5,758.2 1480.5,757.0 1488.5,754.0 1496.5,755.2 1504.5,756.5 1512.5,767.0 1520.5,772.2 1528.5,770.2 1536.5,773.5 1544.5,770.8 1552.5,769.5 1560.5,771.5 1568.5,767.8 1576.5,765.2 1584.5,766.5 1592.5,761.5 1600.5,771.5 1608.5,767.8 1616.5,766.5 1624.5,764.8 1632.5,761.5 1640.5,759.5 1648.5,768.2 1656.5,770.2 1664.5,769.5" fill="none" stroke="#1e90ff" stroke-width="1"/>
</g>
<g shape-rendering="crispEdges" fill="#000">
<path d="M1684 12h2v1h-2zM1684 45h2v1h-2zM1684 78h2v1h-2zM1684 111h2v1h-2zM1684 144h2v1h-2zM1684 177h2v1h-2zM1684 210h2v1h-2zM1684 243h2v1h-2zM1684 276h2v1h-2zM1684 309h2v1h-2zM1684 342h2v1h-2zM1684 375h2v1h-2zM1684 408h2v1h-2zM1684 441h2v1h-2zM1684 474h2v1h-2zM1684 507h2v1h-2zM1684 540h2v1h-2zM1684 573h2v1h-2zM1684 606h2v1h-2zM1684 613h2v1h-2zM1684 672h2v1h-2zM1684 722h2v1h-2zM1684 728h2v1h-2zM1684 754h2v1h-2zM1684 790h2v1h-2zM1684 815h2v1h-2zM8 819h1v3h-1zM72 819h1v3h-1zM136 819h1v3h-1zM200 819h1v3h-1zM264 819h1v3h-1zM328 819h1v3h-1zM392 819h1v3h-1zM456 819h1v3h-1zM520 819h1v3h-1zM584 819h1v3h-1zM648 819h1v3h-1zM712 819h1v3h-1zM776 819h1v3h-1zM840 819h1v3h-1zM904 819h1v3h-1zM968 819h1v3h-1zM1032 819h1v3h-1zM1096 819h1v3h-1zM1160 819h1v3h-1zM1224 819h1v3h-1zM1288 819h1v3h-1zM1352 819h1v3h-1zM1416 819h1v3h-1zM1480 819h1v3h-1zM1544 819h1v3h-1zM1608 819h1v3h-1z"/>
</g>
<text x="1689" y="16" textLength="38" lengthAdjust="spacingAndGlyphs" stroke="#000" xml:space="preserve">4819.540</text>
<text x="1689" y="115" textLength="38" lengthAdjust="spacingAndGlyphs" stroke="#000" xml:space="preserve">4763.540</text>
<text x="1689" y="148" textLength="38" lengthAdjust="spacingAndGlyphs" stroke="#000" xml:space="preserve">4745.060</text>
<text x="1689" y="181" textLength="38" lengthAdjust="spacingAndGlyphs" stroke="#000" xml:space="preserve">4726.580</text>
<text x="1689" y="214" textLength="38" lengthAdjust="spacingAndGlyphs" stroke="#000" xml:space="preserve">4708.100</text>
<text x="1689" y="247" textLength="38" lengthAdjust="spacingAndGlyphs" stroke="#000" xml:space="preserve">4689.620</text>
<text x="1689" y="280" textLength="38" lengthAdjust="spacingAndGlyphs" stroke="#000" xml:space="preserve">4671.140</text>
<text x="1689" y="313" textLength="38" lengthAdjust="spacingAndGlyphs" stroke="#000" xml:space="preserve">4652.660</text>
<text x="1689" y="346" textLength="38" lengthAdjust="spacingAndGlyphs" stroke="#000" xml:space="preserve">4633.620</text>
<text x="1689" y="379" textLength="38" lengthAdjust="spacingAndGlyphs" stroke="#000" xml:space="preserve">4615.140</text>
<text x="1689" y="412" textLength="38" lengthAdjust="spacingAndGlyphs" stroke="#000" xml:space="preserve">4596.660</text>
<text x="1689" y="445" textLength="38" lengthAdjust="spacingAndGlyphs" stroke="#000" xml:space="preserve">4578.180</text>
<text x="1689" y="478" textLength="38" lengthAdjust="spacingAndGlyphs" stroke="#000" xml:space="preserve">4559.700</text>
<text x="1689" y="511" textLength="38" lengthAdjust="spacingAndGlyphs" stroke="#000" xml:space="preserve">4541.220</text>
<text x="1689" y="544" textLength="38" lengthAdjust="spacingAndGlyphs" stroke="#000" xml:space="preserve">4522.740</text>
<text x="1689" y="577" textLength="38" lengthAdjust="spacingAndGlyphs" stroke="#000" xml:space="preserve">4504.260</text>
<text x="1689" y="610" textLength="38" lengthAdjust="spacingAndGlyphs" stroke="#000" xml:space="preserve">4485.780</text>
<text x="1687" y="622" textLength="33" lengthAdjust="spacingAndGlyphs" stroke="#000" xml:space="preserve">41.8694</text>
<text x="1687" y="676" textLength="19" lengthAdjust="spacingAndGlyphs" stroke="#000" xml:space="preserve">0.00</text>
<text x="1687" y="721" textLength="36" lengthAdjust="spacingAndGlyphs" stroke="#000" xml:space="preserve">-35.8856</text>
<text x="1687" y="737" textLength="15" lengthAdjust="spacingAndGlyphs" stroke="#000" xml:space="preserve">100</text>
<text x="1687" y="758" textLength="10" lengthAdjust="spacingAndGlyphs" stroke="#000" xml:space="preserve">70</text>
<text x="1687" y="794" textLength="10" lengthAdjust="spacingAndGlyphs" stroke="#000" xml:space="preserve">30</text>
<text x="1687" y="815" textLength="5" lengthAdjust="spacingAndGlyphs" stroke="#000" xml:space="preserve">0</text>
<g shape-rendering="crispEdges">
<rect x="1685" y="40" width="43" height="11" fill="#ff0000"/>
<rect x="1685" y="71" width="43" height="11" fill="#000000"/>
<rect x="1685" y="147" width="43" height="11" fill="#32cd32"/>
<rect x="1685" y="218" width="43" height="11" fill="#4169e1"/>
<rect x="1685" y="316" width="43" height="11" fill="#4169e1"/>
</g>
<text x="1689" y="49" textLength="38" lengthAdjust="spacingAndGlyphs" fill="#fff" stroke="#fff" xml:space="preserve">4800.000</text>
<text x="1689" y="80" textLength="38" lengthAdjust="spacingAndGlyphs" fill="#fff" stroke="#fff" xml:space="preserve">4783.250</text>
<text x="1689" y="156" textLength="38" lengthAdjust="spacingAndGlyphs" fill="#fff" stroke="#fff" xml:space="preserve">4740.000</text>
<text x="1689" y="227" textLength="38" lengthAdjust="spacingAndGlyphs" fill="#fff" stroke="#fff" xml:space="preserve">4700.000</text>
<text x="1689" y="325" textLength="38" lengthAdjust="spacingAndGlyphs" fill="#fff" stroke="#fff" xml:space="preserve">4645.000</text>
<path d="M11 10h7l-3.5 4z" fill="#000"/>
<text x="23" y="15" textLength="212" lengthAdjust="spacingAndGlyphs" stroke="#000" xml:space="preserve">SP500-,H4  4782.250 4797.500 4781.000 4783.250</text>
<text x="12" y="624" textLength="128" lengthAdjust="spacingAndGlyphs" stroke="#000" xml:space="preserve">MACD(12,26,9) 7.4256 8.1013</text>
<text x="12" y="739" textLength="68" lengthAdjust="spacingAndGlyphs" stroke="#000" xml:space="preserve">RSI(14) 53.7353</text>
<text x="7.5" y="831.4" textLength="52.9" lengthAdjust="spacingAndGlyphs" stroke="#000" xml:space="preserve">17 Nov 2021</text>
<text x="71.5" y="831.4" textLength="55.9" lengthAdjust="spacingAndGlyphs" stroke="#000" xml:space="preserve">18 Nov 12:00</text>
<text x="135.5" y="831.4" textLength="55.9" lengthAdjust="spacingAndGlyphs" stroke="#000" xml:space="preserve">19 Nov 20:00</text>
<text x="199.5" y="831.4" textLength="55.9" lengthAdjust="spacingAndGlyphs" stroke="#000" xml:space="preserve">23 Nov 00:00</text>
<text x="263.5" y="831.4" textLength="55.9" lengthAdjust="spacingAndGlyphs" stroke="#000" xml:space="preserve">24 Nov 08:00</text>
<text x="327.5" y="831.4" textLength="55.9" lengthAdjust="spacingAndGlyphs" stroke="#000" xml:space="preserve">25 Nov 16:00</text>
<text x="391.5" y="831.4" textLength="55.9" lengthAdjust="spacingAndGlyphs" stroke="#000" xml:space="preserve">29 Nov 00:00</text>
<text x="455.5" y="831.4" textLength="55.9" lengthAdjust="spacingAndGlyphs" stroke="#000" xml:space="preserve">30 Nov 08:00</text>
<text x="519.5" y="831.4" textLength="49.0" lengthAdjust="spacingAndGlyphs" stroke="#000" xml:space="preserve">1 Dec 16:00</text>
<text x="583.5" y="831.4" textLength="49.0" lengthAdjust="spacingAndGlyphs" stroke="#000" xml:space="preserve">3 Dec 00:00</text>
<text x="647.5" y="831.4" textLength="49.0" lengthAdjust="spacingAndGlyphs" stroke="#000" xml:space="preserve">6 Dec 04:00</text>
<text x="711.5" y="831.4" textLength="49.0" lengthAdjust="spacingAndGlyphs" stroke="#000" xml:space="preserve">7 Dec 12:00</text>
<text x="775.5" y="831.4" textLength="49.0" lengthAdjust="spacingAndGlyphs" stroke="#000" xml:space="preserve">8 Dec 20:00</text>
<text x="839.5" y="831.4" textLength="54.1" lengthAdjust="spacingAndGlyphs" stroke="#000" xml:space="preserve">10 Dec 04:00</text>
<text x="903.5" y="831.4" textLength="54.1" lengthAdjust="spacingAndGlyphs" stroke="#000" xml:space="preserve">13 Dec 08:00</text>
<text x="967.5" y="831.4" textLength="54.1" lengthAdjust="spacingAndGlyphs" stroke="#000" xml:space="preserve">14 Dec 16:00</text>
<text x="1031.5" y="831.4" textLength="54.1" lengthAdjust="spacingAndGlyphs" stroke="#000" xml:space="preserve">16 Dec 00:00</text>
<text x="1095.5" y="831.4" textLength="54.1" lengthAdjust="spacingAndGlyphs" stroke="#000" xml:space="preserve">17 Dec 08:00</text>
<text x="1159.5" y="831.4" textLength="54.1" lengthAdjust="spacingAndGlyphs" stroke="#000" xml:space="preserve">20 Dec 12:00</text>
<text x="1223.5" y="831.4" textLength="54.1" lengthAdjust="spacingAndGlyphs" stroke="#000" xml:space="preserve">21 Dec 20:00</text>
<text x="1287.5" y="831.4" textLength="54.1" lengthAdjust="spacingAndGlyphs" stroke="#000" xml:space="preserve">23 Dec 04:00</text>
<text x="1351.5" y="831.4" textLength="54.1" lengthAdjust="spacingAndGlyphs" stroke="#000" xml:space="preserve">27 Dec 12:00</text>
<text x="1415.5" y="831.4" textLength="54.1" lengthAdjust="spacingAndGlyphs" stroke="#000" xml:space="preserve">28 Dec 20:00</text>
<text x="1479.5" y="831.4" textLength="54.1" lengthAdjust="spacingAndGlyphs" stroke="#000" xml:space="preserve">30 Dec 04:00</text>
<text x="1543.5" y="831.4" textLength="54.1" lengthAdjust="spacingAndGlyphs" stroke="#000" xml:space="preserve">31 Dec 12:00</text>
<text x="1607.5" y="831.4" textLength="48.3" lengthAdjust="spacingAndGlyphs" stroke="#000" xml:space="preserve">3 Jan 16:00</text>
<text x="1351" y="476.5" textLength="241" lengthAdjust="spacingAndGlyphs" fill="#e8111a" stroke="#e8111a" style="font-family:'Liberation Sans','Noto Sans CJK SC',sans-serif;font-size:34px" xml:space="preserve">多空转折点4740</text>
</svg></body></html>
